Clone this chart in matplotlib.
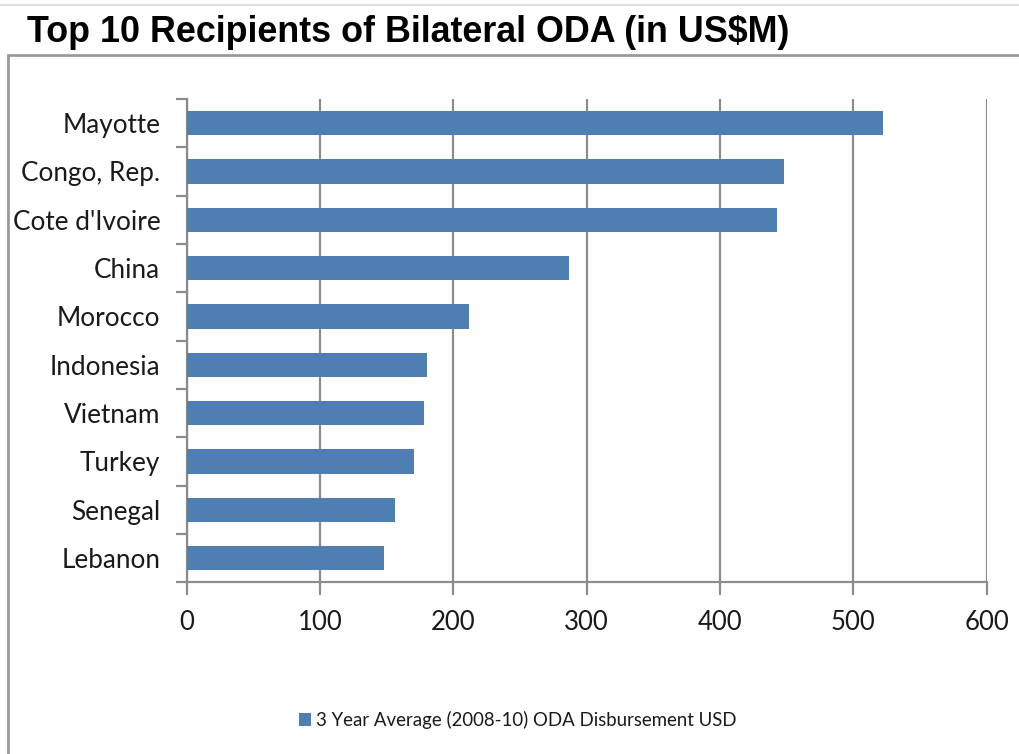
import numpy as np
import matplotlib
matplotlib.use('Agg')
import matplotlib.pyplot as plt
import matplotlib.patches as patches
from matplotlib.lines import Line2D

countries = ['Mayotte', 'Congo, Rep.', "Cote d'Ivoire", 'China', 'Morocco',
             'Indonesia', 'Vietnam', 'Turkey', 'Senegal', 'Lebanon']
oda = [522.5, 447.7, 442.5, 286.7, 211.7, 180.0, 178.2, 170.5, 156.2, 147.7]
xticks = [0, 100, 200, 300, 400, 500, 600]
series_name = '3 Year Average (2008-10) ODA Disbursement USD'
title = 'Top 10 Recipients of Bilateral ODA (in US$M)'

W, H = 1020, 754
bar_col = '#4f7fb2'
grid_col = '#8c8c8c'
txt_col = '#1a1a1a'
lab_font = 'Lato'

fig = plt.figure(figsize=(W/100, H/100), dpi=100)

# thin line at the very top and the chart frame
fig.add_artist(Line2D([0, 1], [1 - 5/H, 1 - 5/H], color='#d9d9d9', lw=1.2,
                      transform=fig.transFigure))
fig.add_artist(patches.Rectangle((8/W, -0.05), 1.2, 1 - 55/H + 0.05,
                                 transform=fig.transFigure, fill=False,
                                 edgecolor='#9a9a9a', lw=2))

fig.text(27/W, 1 - 42/H, title, fontsize=25.8, fontweight='bold',
         family='Liberation Sans', color='black', va='baseline', ha='left')

x0, x1 = 186.7, 986.7
ytop, ybot = 99, 582.3
ax = fig.add_axes([x0/W, 1 - ybot/H, (x1 - x0)/W, (ybot - ytop)/H])

y = np.arange(len(countries))
bars = ax.barh(y, oda, height=0.5, color=bar_col, label=series_name, zorder=3)
ax.set_ylim(len(countries) - 0.5, -0.5)
ax.set_xlim(0, 600)

ax.set_xticks(xticks)
ax.set_xticklabels([str(t) for t in xticks])
ax.set_yticks(y)
ax.set_yticklabels(countries)
ax.set_yticks(np.arange(len(countries) + 1) - 0.5, minor=True)

ax.grid(axis='x', color=grid_col, lw=1.6, zorder=0)
for s in ['top', 'right']:
    ax.spines[s].set_visible(False)
for s in ['left', 'bottom']:
    ax.spines[s].set_color(grid_col)
    ax.spines[s].set_linewidth(1.6)

ax.tick_params(axis='x', length=9, width=1.6, color=grid_col, pad=11,
               labelsize=18.5, labelcolor=txt_col)
ax.tick_params(axis='y', which='major', length=0, pad=19,
               labelsize=18.8, labelcolor=txt_col)
ax.tick_params(axis='y', which='minor', length=8, width=1.6, color=grid_col)
for lab in ax.get_xticklabels() + ax.get_yticklabels():
    lab.set_family(lab_font)

leg = fig.legend(handles=[bars], loc='center left',
                 bbox_to_anchor=(282/W, 1 - 720/H), frameon=False,
                 handlelength=0.65, handleheight=0.65, handletextpad=0.25,
                 prop={'family': lab_font, 'size': 13.4})
for t in leg.get_texts():
    t.set_color(txt_col)

fig.savefig('out.png', dpi=100, facecolor='white')
